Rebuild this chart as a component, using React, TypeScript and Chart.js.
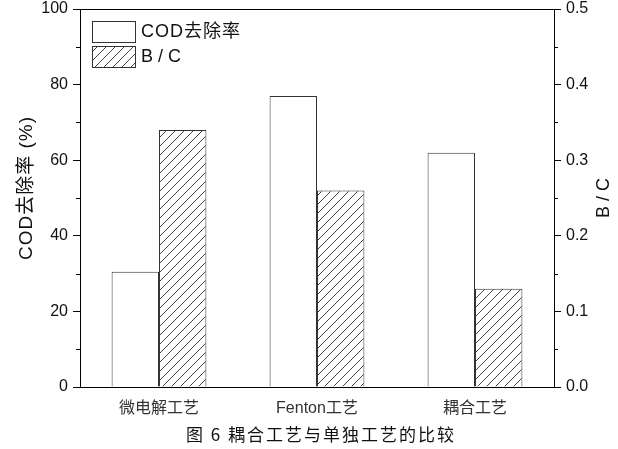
import React, { useEffect, useRef } from 'react';
import { Chart, registerables } from 'chart.js';

Chart.register(...registerables);

const categories = ['微电解工艺', 'Fenton工艺', '耦合工艺'];
const codRemoval = [30.5, 77, 62];
const bcRatio = [0.34, 0.26, 0.13];
const seriesNames = ['COD去除率', 'B / C'];
const leftMinorTicks = [10, 30, 50, 70, 90];
const rightMinorTicks = [0.05, 0.15, 0.25, 0.35, 0.45];
const leftTitle = 'COD去除率 (%)';
const rightTitle = 'B / C';
const caption = '图 6 耦合工艺与单独工艺的比较';

const FONT = '"Liberation Sans", "Noto Sans CJK SC", Arial, sans-serif';

function makeHatch(ctx: CanvasRenderingContext2D): CanvasPattern | string {
  const s = 9;
  const c = document.createElement('canvas');
  c.width = s;
  c.height = s;
  const g = c.getContext('2d');
  if (!g) return '#fff';
  g.fillStyle = '#fff';
  g.fillRect(0, 0, s, s);
  g.strokeStyle = '#444';
  g.lineWidth = 1;
  g.beginPath();
  g.moveTo(-1, s + 1);
  g.lineTo(s + 1, -1);
  g.moveTo(-1, 1);
  g.lineTo(1, -1);
  g.moveTo(s - 1, s + 1);
  g.lineTo(s + 1, s - 1);
  g.stroke();
  return ctx.createPattern(c, 'repeat') || '#fff';
}

export default function App() {
  const ref = useRef<HTMLCanvasElement | null>(null);

  useEffect(() => {
    const canvas = ref.current;
    if (!canvas) return;
    const ctx = canvas.getContext('2d');
    if (!ctx) return;
    const hatch = makeHatch(ctx);

    const decor = {
      id: 'decor',
      afterDraw(chart: any) {
        const c = chart.ctx as CanvasRenderingContext2D;
        const { left, right, top, bottom } = chart.chartArea;
        c.save();
        c.strokeStyle = '#000';
        c.lineWidth = 1;
        // top frame line
        c.beginPath();
        c.moveTo(left, Math.round(top) + 0.5);
        c.lineTo(right + 1, Math.round(top) + 0.5);
        c.stroke();
        // minor ticks
        const ys = chart.scales.y;
        const y1 = chart.scales.y1;
        c.beginPath();
        leftMinorTicks.forEach((v) => {
          const py = Math.round(ys.getPixelForValue(v)) + 0.5;
          c.moveTo(left - 4, py);
          c.lineTo(left, py);
        });
        rightMinorTicks.forEach((v) => {
          const py = Math.round(y1.getPixelForValue(v)) + 0.5;
          c.moveTo(right, py);
          c.lineTo(right + 4, py);
        });
        c.stroke();

        // legend
        const boxes = [
          { y: 21, fill: '#fff' as any },
          { y: 46, fill: hatch as any },
        ];
        c.font = `18px ${FONT}`;
        c.textBaseline = 'middle';
        c.textAlign = 'left';
        boxes.forEach((b, i) => {
          c.fillStyle = b.fill;
          c.fillRect(92, b.y, 43, 21);
          c.strokeStyle = '#333';
          c.strokeRect(92.5, b.y + 0.5, 43, 21);
          c.fillStyle = '#111';
          (c as any).letterSpacing = i === 0 ? '1px' : '0px';
          c.fillText(seriesNames[i], 141, b.y + 11);
        });
        (c as any).letterSpacing = '0px';

        // axis titles
        const midY = (top + bottom) / 2;
        c.fillStyle = '#111';
        c.textAlign = 'center';
        c.font = `19px ${FONT}`;
        c.save();
        c.translate(27, midY - 10);
        c.rotate(-Math.PI / 2);
        (c as any).letterSpacing = '1px';
        c.fillText(leftTitle, 0, 0);
        c.restore();
        (c as any).letterSpacing = '0px';
        c.font = `18px ${FONT}`;
        c.save();
        c.translate(604, midY);
        c.rotate(-Math.PI / 2);
        c.fillText(rightTitle, 0, 0);
        c.restore();

        // caption
        c.font = `17px "Noto Sans CJK SC", serif`;
        (c as any).letterSpacing = '2px';
        c.fillStyle = '#111';
        c.fillText(caption, 321, 435);
        c.restore();
      },
    };

    const chart = new Chart(canvas, {
      type: 'bar',
      data: {
        labels: categories,
        datasets: [
          {
            label: seriesNames[0],
            data: codRemoval,
            yAxisID: 'y',
            backgroundColor: '#fff',
            borderColor: '#333',
            borderWidth: 1,
            categoryPercentage: 0.6,
            barPercentage: 1,
          },
          {
            label: seriesNames[1],
            data: bcRatio,
            yAxisID: 'y1',
            backgroundColor: hatch as any,
            borderColor: '#333',
            borderWidth: 1,
            categoryPercentage: 0.6,
            barPercentage: 1,
          },
        ],
      },
      options: {
        responsive: false,
        animation: false,
        layout: { padding: { top: 9, left: 0, right: 0, bottom: 0 } },
        plugins: {
          legend: { display: false },
          tooltip: { enabled: false },
        },
        scales: {
          x: {
            type: 'category',
            offset: true,
            grid: { display: false },
            border: { display: true, color: '#000', width: 1 },
            ticks: {
              font: { family: '"Liberation Sans", "Noto Sans CJK SC", sans-serif', size: 16 },
              color: '#333',
              padding: 4,
              maxRotation: 0,
            },
            afterFit: (s: any) => {
              s.height = 62;
              s.paddingLeft = 0;
              s.paddingRight = 0;
            },
          },
          y: {
            position: 'left',
            min: 0,
            max: 100,
            ticks: {
              stepSize: 20,
              font: { family: FONT, size: 16 },
              color: '#111',
              padding: 5,
            },
            grid: { drawOnChartArea: false, tickLength: 7, color: '#000' },
            border: { display: true, color: '#000', width: 1 },
            afterFit: (s: any) => {
              s.width = 80;
              s.paddingTop = 0;
              s.paddingBottom = 0;
            },
          },
          y1: {
            position: 'right',
            min: 0,
            max: 0.5,
            ticks: {
              stepSize: 0.1,
              font: { family: FONT, size: 16 },
              color: '#111',
              padding: 5,
              callback: (v: any) => Number(v).toFixed(1),
            },
            grid: { drawOnChartArea: false, tickLength: 7, color: '#000' },
            border: { display: true, color: '#000', width: 1 },
            afterFit: (s: any) => {
              s.width = 64;
              s.paddingTop = 0;
              s.paddingBottom = 0;
            },
          },
        },
      },
      plugins: [decor],
    });

    return () => {
      chart.destroy();
    };
  }, []);

  return (
    <div style={{ position: 'absolute', left: 0, top: 0, width: 618, height: 449, background: '#fff' }}>
      <canvas ref={ref} width={618} height={449} style={{ display: 'block', width: 618, height: 449 }} />
    </div>
  );
}
